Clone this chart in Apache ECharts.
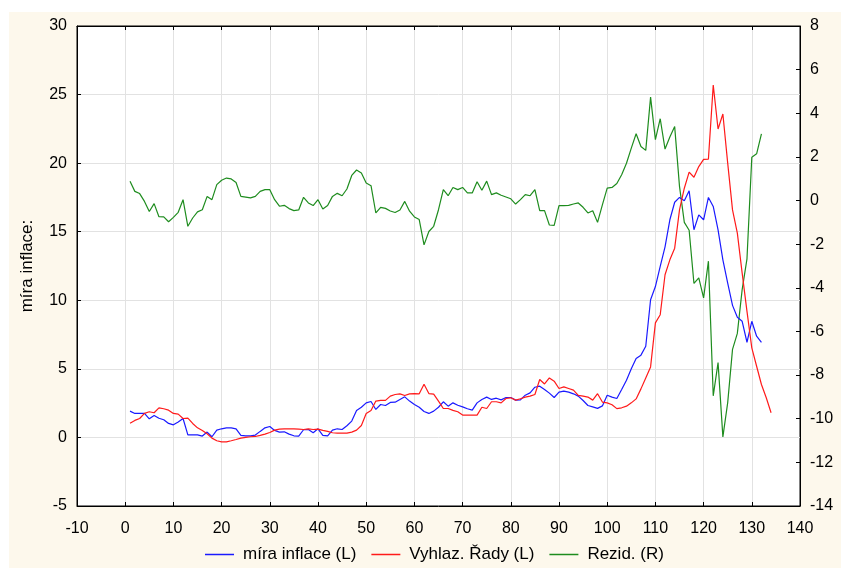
<!DOCTYPE html>
<html><head><meta charset="utf-8">
<script src="https://cdn.jsdelivr.net/npm/echarts@6/dist/echarts.min.js"></script>
<style>
html,body{margin:0;padding:0;background:#fff;}
#bg{position:absolute;left:9px;top:12px;width:832px;height:556px;background:#fdf8ec;}
#chart{position:absolute;left:0;top:0;width:841px;height:568px;}
</style>
</head><body><div id="bg"></div><div id="chart"></div>
<script>
// x positions start at 1 and step by 1
const xStart = 1;
const seriesNames = ['míra inflace (L)', 'Vyhlaz. Řady (L)', 'Rezid. (R)'];
const yAxisName = 'míra inflace:';

const inflace = [1.92,1.75,1.75,1.75,1.36,1.6,1.4,1.29,1.02,0.92,
1.12,1.38,0.19,0.19,0.19,0.1,0.39,0.05,0.53,0.63,
0.7,0.7,0.63,0.15,0.12,0.12,0.17,0.44,0.7,0.8,
0.51,0.39,0.41,0.24,0.12,0.1,0.56,0.58,0.34,0.63,
0.15,0.12,0.53,0.63,0.58,0.85,1.19,1.97,2.2,2.52,
2.62,2.04,2.4,2.33,2.55,2.57,2.77,2.96,2.65,2.4,
2.2,1.89,1.75,1.92,2.2,2.6,2.28,2.52,2.35,2.23,
2.09,1.99,2.52,2.77,2.94,2.77,2.86,2.74,2.91,2.91,
2.72,2.74,3.08,3.25,3.66,3.74,3.5,3.23,2.91,3.3,
3.37,3.3,3.18,3.01,2.69,2.33,2.23,2.12,2.3,3.08,
2.94,2.84,3.49,4.17,5.0,5.75,6.0,6.65,10.04,11.0,
12.47,13.9,15.87,17.15,17.5,17.25,17.98,15.14,16.23,15.87,
17.5,16.84,15.14,12.95,11.26,9.63,8.76,8.47,6.94,8.47,
7.38,6.94];

const vyhlaz = [1.04,1.24,1.38,1.75,1.87,1.8,2.16,2.09,1.99,1.75,
1.7,1.38,1.41,1.02,0.7,0.51,0.27,-0.05,-0.24,-0.32,
-0.32,-0.24,-0.15,-0.05,0,0.05,0.07,0.15,0.24,0.36,
0.53,0.61,0.63,0.63,0.63,0.61,0.58,0.63,0.58,0.61,
0.51,0.44,0.34,0.32,0.32,0.32,0.39,0.53,0.87,1.75,
1.97,2.65,2.7,2.7,3.01,3.13,3.18,3.06,3.18,3.2,
3.18,3.88,3.2,3.16,2.65,2.11,2.11,1.97,1.87,1.63,
1.63,1.63,1.63,2.2,2.11,2.6,2.6,2.52,2.84,2.89,
2.72,2.82,2.94,3.01,3.13,4.22,3.9,4.34,4.1,3.57,
3.69,3.57,3.45,3.06,3.01,2.94,2.72,3.19,2.58,2.52,
2.38,2.1,2.16,2.28,2.52,2.81,3.54,4.34,5.14,8.35,
8.95,11.86,12.95,13.8,16.59,18.17,19.34,18.97,19.75,20.28,
20.3,25.69,22.49,23.58,20.0,16.59,14.9,11.98,9.19,6.53,
5.19,3.86,2.89,1.8];

const rezid = [0.88,0.42,0.32,-0.04,-0.5,-0.14,-0.74,-0.75,-0.97,-0.77,
-0.54,0.04,-1.18,-0.8,-0.52,-0.42,0.19,0.04,0.73,0.93,
1.03,0.99,0.83,0.19,0.16,0.12,0.19,0.42,0.5,0.5,
0.04,-0.26,-0.22,-0.37,-0.46,-0.43,0.15,-0.11,-0.23,0.04,
-0.39,-0.23,0.19,0.33,0.22,0.53,1.15,1.4,1.26,0.8,
0.68,-0.57,-0.31,-0.36,-0.48,-0.55,-0.43,-0.04,-0.49,-0.75,
-0.87,-2.03,-1.42,-1.18,-0.42,0.5,0.22,0.6,0.5,0.6,
0.35,0.35,0.86,0.47,0.89,0.27,0.35,0.24,0.16,0.08,
-0.16,0.04,0.27,0.22,0.5,-0.46,-0.46,-1.12,-1.14,-0.23,
-0.23,-0.22,-0.16,-0.11,-0.31,-0.57,-0.47,-1.0,-0.2,0.57,
0.6,0.78,1.18,1.71,2.4,3.06,2.48,2.3,4.74,2.79,
3.75,2.36,2.91,3.39,0.65,-1.0,-1.36,-3.8,-3.54,-4.46,
-2.78,-8.95,-7.43,-10.83,-9.26,-6.82,-6.09,-4.08,-2.67,1.98,
2.14,3.06];

function pairs(arr){ return arr.map((v,i)=>[xStart+i, v]); }

const font = 'Liberation Sans, Arial, sans-serif';
const tickCommon = {inside:true, length:4, lineStyle:{color:'#000', width:1}};
const lineCommon = {show:true, onZero:false, lineStyle:{color:'#000', width:1}};

const chart = echarts.init(document.getElementById('chart'), null, {renderer:'canvas'});
chart.setOption({
  animation:false,
  backgroundColor:'transparent',
  textStyle:{fontFamily:font},
  grid:{left:77, top:26, width:723, height:480, show:true, backgroundColor:'#fff', borderColor:'#000', borderWidth:1},
  legend:{
    left:205, top:546, padding:0, icon:'rect', itemWidth:29, itemHeight:1.5, itemGap:15,
    textStyle:{fontSize:17, color:'#000', fontFamily:font, padding:[0,0,0,4]},
    data:seriesNames
  },
  xAxis:[
    {type:'value', min:-10, max:140, interval:10, position:'bottom',
     axisLine:lineCommon, axisTick:tickCommon,
     axisLabel:{color:'#000', fontSize:16, fontFamily:font, margin:15},
     splitLine:{show:true, lineStyle:{color:'#e2e2e2', width:1}}},
    {type:'value', min:-10, max:140, interval:10, position:'top',
     axisLine:lineCommon, axisTick:tickCommon,
     axisLabel:{show:false}, splitLine:{show:false}}
  ],
  yAxis:[
    {type:'value', min:-5, max:30, interval:5, position:'left',
     name:yAxisName, nameLocation:'middle', nameGap:41,
     nameTextStyle:{fontSize:17, color:'#000', fontFamily:font},
     axisLine:lineCommon, axisTick:tickCommon,
     axisLabel:{color:'#000', fontSize:16, fontFamily:font, margin:10},
     splitLine:{show:true, lineStyle:{color:'#e2e2e2', width:1}}},
    {type:'value', min:-14, max:8, interval:2, position:'right',
     axisLine:lineCommon, axisTick:tickCommon,
     axisLabel:{color:'#000', fontSize:16, fontFamily:font, margin:10},
     splitLine:{show:false}}
  ],
  series:[
    {name:seriesNames[0], type:'line', xAxisIndex:0, yAxisIndex:0, data:pairs(inflace),
     showSymbol:false, symbol:'none', color:'#1a1aff', lineStyle:{color:'#1a1aff', width:1.2}, z:3},
    {name:seriesNames[1], type:'line', xAxisIndex:0, yAxisIndex:0, data:pairs(vyhlaz),
     showSymbol:false, symbol:'none', color:'#ff1a1a', lineStyle:{color:'#ff1a1a', width:1.2}, z:4},
    {name:seriesNames[2], type:'line', xAxisIndex:0, yAxisIndex:1, data:pairs(rezid),
     showSymbol:false, symbol:'none', color:'#1e8c1e', lineStyle:{color:'#1e8c1e', width:1.2}, z:2}
  ]
});
</script>
</body></html>
